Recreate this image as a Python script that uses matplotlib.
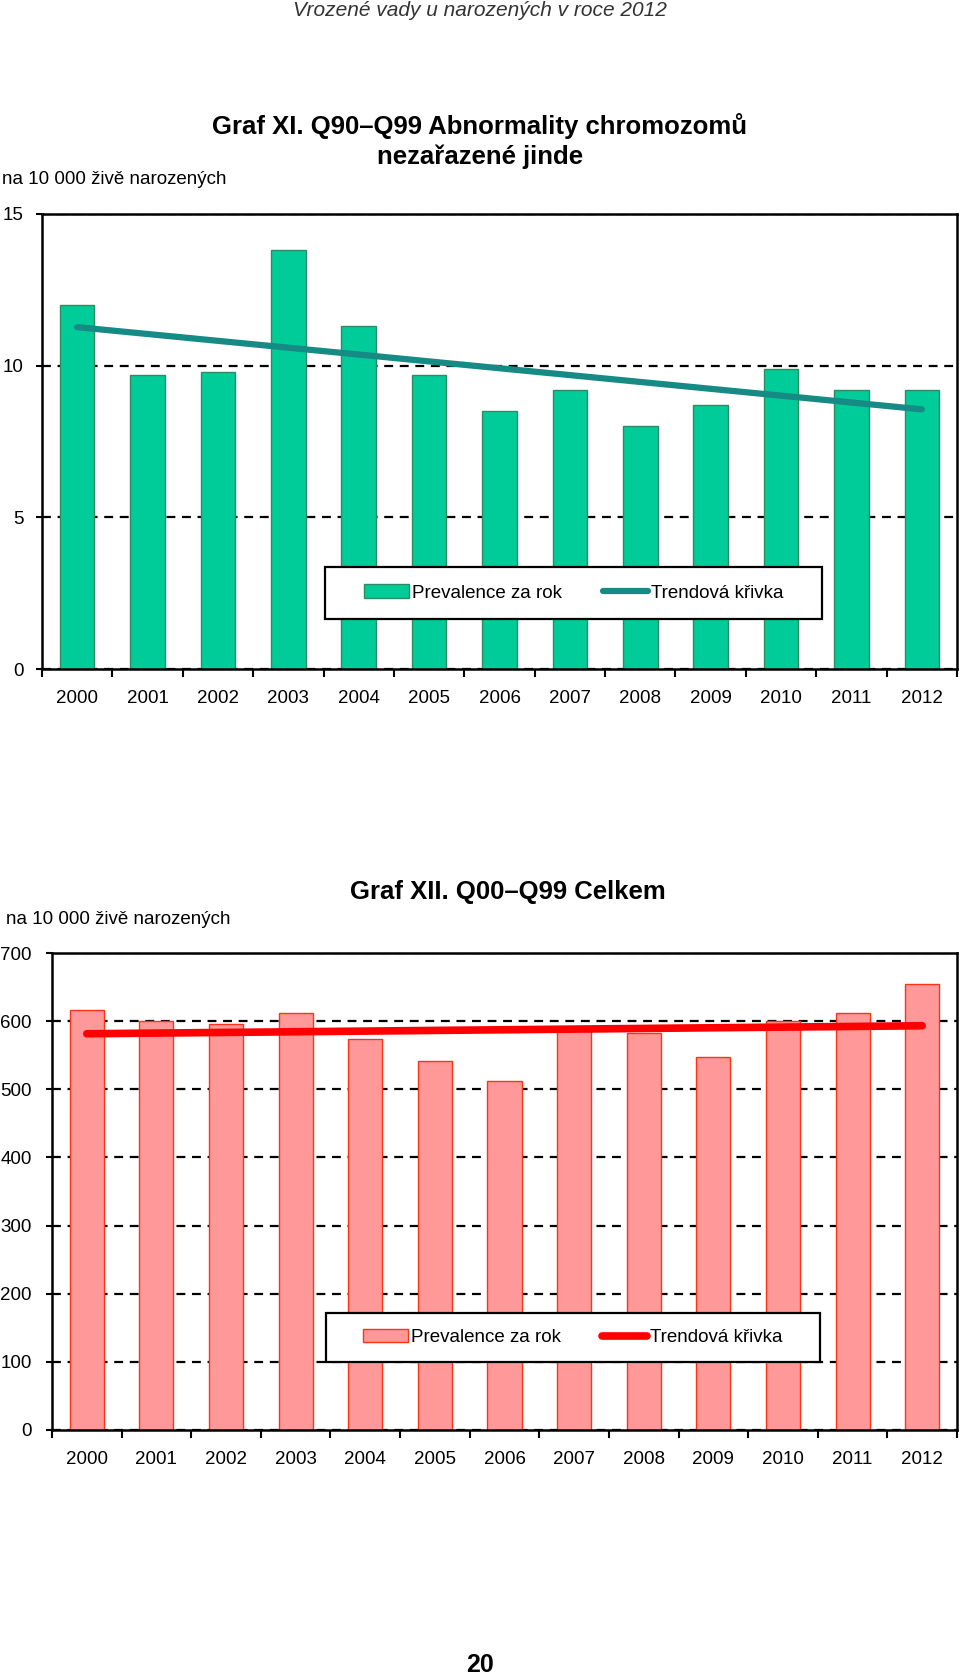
import numpy as np
import matplotlib
matplotlib.use("Agg")
import matplotlib.pyplot as plt
from matplotlib.patches import Rectangle

plt.rcParams['font.family'] = ['Liberation Sans', 'DejaVu Sans']

# data
years = ['2000', '2001', '2002', '2003', '2004', '2005', '2006',
         '2007', '2008', '2009', '2010', '2011', '2012']
chrom_values = [12.0, 9.7, 9.8, 13.8, 11.3, 9.7, 8.5, 9.2, 8.0, 8.7, 9.9, 9.2, 9.2]
chrom_trend = [11.27, 8.56]   # trend at 2000 and 2012
total_values = [617, 600, 596, 612, 574, 541, 512, 589, 582, 547, 600, 612, 655]
total_trend = [581.5, 593.2]

W, H = 960, 1678
fig = plt.figure(figsize=(W / 100, H / 100), dpi=100)


def px_axes(left, top, right, bottom):
    return fig.add_axes([left / W, 1 - bottom / H, (right - left) / W, (bottom - top) / H])


def draw_chart(ax, values, trend, fill, edge, trend_color, ymax, ystep, trend_lw, ypad):
    x = np.arange(len(years))
    ax.set_axisbelow(True)
    ax.yaxis.grid(True, color='black', linestyle=(0, (4, 3)), linewidth=1.6)
    bars = ax.bar(x, values, width=0.49, color=fill, edgecolor=edge, linewidth=1.0,
                  label='Prevalence za rok', zorder=2)
    line, = ax.plot([x[0], x[-1]], trend, color=trend_color, linewidth=trend_lw,
                    solid_capstyle='round', label='Trendová křivka', zorder=3)
    ax.set_xlim(-0.5, len(years) - 0.5)
    ax.set_ylim(0, ymax)
    ax.set_yticks(np.arange(0, ymax + 1, ystep))
    ax.set_xticks(x)
    ax.set_xticklabels(years)
    ax.set_xticks(np.arange(-0.5, len(years), 1), minor=True)
    ax.tick_params(axis='x', which='major', length=0, pad=15, labelsize=13.5)
    ax.tick_params(axis='x', which='minor', length=6, width=1.5, direction='out')
    ax.tick_params(axis='y', length=4.5, width=1.5, direction='out', pad=ypad, labelsize=13.5)
    for s in ax.spines.values():
        s.set_linewidth(1.8)
        s.set_zorder(4)
    return bars, line


def legend_box(ax, handles, left, top, right, bottom):
    rect = Rectangle((left / W, 1 - bottom / H), (right - left) / W, (bottom - top) / H,
                     transform=fig.transFigure, facecolor='white', edgecolor='black',
                     linewidth=1.6, zorder=4.5, clip_on=False)
    ax.add_artist(rect)
    leg = ax.legend(handles, [h.get_label() for h in handles], loc='center', ncol=2,
                    fontsize=13.5, frameon=False,
                    bbox_to_anchor=((left + right) / 2 / W, 1 - (top + bottom) / 2 / H),
                    bbox_transform=fig.transFigure, handlelength=2.4,
                    handletextpad=0.15, columnspacing=2.2)
    leg.set_zorder(5)


# --- chart XI ---
ax1 = px_axes(42, 214, 957, 669)
b1, l1 = draw_chart(ax1, chrom_values, chrom_trend, '#00CC99', '#2E8B60', '#168A84', 15, 5, 4.5, 8.5)
legend_box(ax1, [b1, l1], 325, 567, 822, 619)

# --- chart XII ---
ax2 = px_axes(52, 953, 957, 1430)
b2, l2 = draw_chart(ax2, total_values, total_trend, '#FF9999', '#FF3311', '#FF0000', 700, 100, 5.5, 10)
legend_box(ax2, [b2, l2], 326, 1313, 820, 1362)

# texts
fig.text(480 / W, 1 - 11 / H, 'Vrozené vady u narozených v roce 2012', ha='center', va='center',
         fontsize=15, style='italic', color='#333333')
fig.text(480 / W, 1 - 141 / H, 'Graf XI. Q90–Q99 Abnormality chromozomů\nnezařazené jinde',
         ha='center', va='center', fontsize=18.5, fontweight='bold', linespacing=1.3)
fig.text(2 / W, 1 - 179 / H, 'na 10 000 živě narozených', ha='left', va='center', fontsize=13.5)
fig.text(508 / W, 1 - 892 / H, 'Graf XII. Q00–Q99 Celkem', ha='center', va='center',
         fontsize=18.5, fontweight='bold')
fig.text(6 / W, 1 - 920 / H, 'na 10 000 živě narozených', ha='left', va='center', fontsize=13.5)
fig.text(480 / W, 1 - 1665 / H, '20', ha='center', va='center', fontsize=18, fontweight='bold')

fig.savefig('out.png', dpi=100)
